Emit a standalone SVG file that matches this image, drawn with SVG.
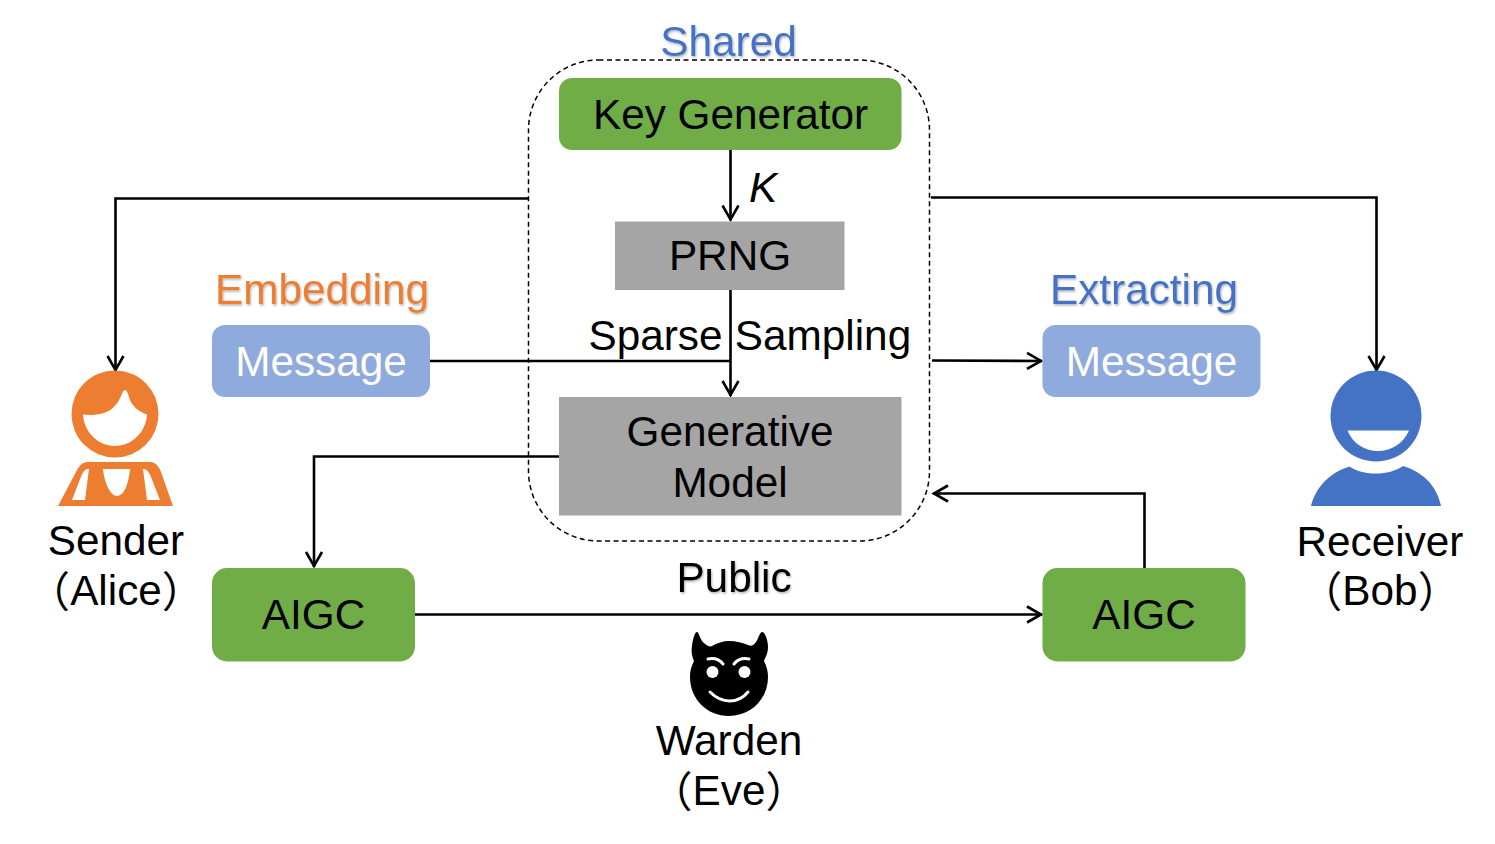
<svg xmlns="http://www.w3.org/2000/svg" width="1495" height="844" viewBox="0 0 1495 844">
<style>
text{font-family:"Liberation Sans",Arial,"Noto Sans CJK SC",sans-serif;font-size:42.300px;fill:#000;text-anchor:middle}
.w{fill:#fff}
.b{fill:#4472c4}
.o{fill:#ed7d31}
.sh{filter:url(#ts)}
.c{fill:none;stroke:#000;stroke-width:2.600}
.green{fill:#70ad47}
.gray{fill:#a5a5a5}
.lb{fill:#8faadc}
</style>
<defs>
<filter id="ts" x="-10%" y="-20%" width="120%" height="140%"><feDropShadow dx="1" dy="1.500" stdDeviation="1" flood-color="#000" flood-opacity=".3"/></filter>
<marker id="a" markerUnits="userSpaceOnUse" markerWidth="24" markerHeight="24" refX="19" refY="10" orient="auto" overflow="visible"><path d="M4 2L18 10L4 18" fill="none" stroke="#000" stroke-width="2.600"/></marker>
</defs>
<rect width="1495" height="844" fill="#fff"/>
<g id="shared-boundary"><rect x="528.500" y="60" width="401" height="481" rx="70" ry="70" fill="none" stroke="#000" stroke-width="1.500" stroke-dasharray="5 3.500"/><text class="b sh" x="728.500" y="55.500">Shared</text></g>
<g id="connectors">
<path class="c" d="M528 198.500H115.500V371" marker-end="url(#a)"/>
<path class="c" d="M931 197.500H1376.500V371" marker-end="url(#a)"/>
<path class="c" d="M730.500 150V220.500" marker-end="url(#a)"/>
<path class="c" d="M730.500 290V396" marker-end="url(#a)"/>
<path class="c" d="M430 361H730.500"/>
<path class="c" d="M932 360.500L1042 361" marker-end="url(#a)"/>
<path class="c" d="M559 456.500H314V567" marker-end="url(#a)"/>
<path class="c" d="M1144.500 568V493.500H933" marker-end="url(#a)"/>
<path class="c" d="M415 614.500H1042" marker-end="url(#a)"/>
</g>
<g id="key-generator"><rect class="green" x="559" y="78" width="342.500" height="72" rx="13"/><text x="730.500" y="129.300">Key Generator</text></g>
<g id="k-label"><text x="763" y="202.300" font-style="italic">K</text></g>
<g id="prng"><rect class="gray" x="615" y="221.500" width="229.500" height="68.500"/><text x="730" y="270.300">PRNG</text></g>
<g id="sparse-sampling"><text x="655.500" y="349.700">Sparse</text><text x="823" y="349.700">Sampling</text></g>
<g id="generative-model"><rect class="gray" x="559" y="397" width="342.500" height="118.500"/><text x="730" y="445.800">Generative</text><text x="730" y="496.800">Model</text></g>
<g id="embedding"><text class="o sh" x="322" y="303.500">Embedding</text></g>
<g id="message-left"><rect class="lb" x="212" y="325" width="218" height="72" rx="13"/><text class="w" x="321" y="376">Message</text></g>
<g id="extracting"><text class="b sh" x="1144" y="303.500">Extracting</text></g>
<g id="message-right"><rect class="lb" x="1042.500" y="325" width="218" height="72" rx="13"/><text class="w" x="1151.500" y="376">Message</text></g>
<g id="aigc-left"><rect class="green" x="212" y="568" width="203" height="93.500" rx="15"/><text x="313.500" y="628.800">AIGC</text></g>
<g id="aigc-right"><rect class="green" x="1042.500" y="568" width="203" height="93.500" rx="15"/><text x="1144" y="628.800">AIGC</text></g>
<g id="public"><text class="sh" x="734" y="592">Public</text></g>
<g id="sender">
<circle class="o" cx="115" cy="414" r="43.500"/>
<path class="w" d="M83 414.500C97 416 110 414 118 402C122 395 123 389 125.500 390C129 393 129 401 133 405C137 410 142 413 147 414.500C146 432 132 446 115 446C98 446 84 432 83 414.500Z"/>
<path class="o" fill-rule="evenodd" d="M58 506L76 472C79 466 82 462 88 462H150C155 462 159 466 161 472L173 506ZM72 500H85L89 469C85 469 84 471 82 474ZM103 469C104 481 110 496 117 496C125 496 129 481 130 469ZM143 469L147 500H160L151 477C149 472 147 469 143 469Z"/>
<text x="116" y="555">Sender</text><text x="116" y="605"><tspan dy="2">（</tspan><tspan dy="-2">Alice</tspan><tspan dy="2">）</tspan></text>
</g>
<g id="receiver">
<circle class="b" cx="1376" cy="416" r="45.500"/>
<path class="w" d="M1347.500 430.500H1409C1403 444 1391 451 1378 451C1365 451 1353 444 1347.500 430.500Z"/>
<path class="b" d="M1311 506C1316 486 1331 472 1349.500 466.500C1358 472 1367 473.500 1376 473.500C1386 473.500 1396 471 1403 466C1423 472 1437 486 1441 506Z"/>
<text x="1380" y="556">Receiver</text><text x="1380" y="605"><tspan dy="2">（</tspan><tspan dy="-2">Bob</tspan><tspan dy="2">）</tspan></text>
</g>
<g id="warden">
<path d="M692 646C693 638 695 632 697 632C699 632 700 640 704 643C707 646 710 647 712 646C717 643 723 641 729 641C736 641 743 643 748 645C751 647 754 645 756 642C758 639 760 632 762 632C765 632 768 640 768 647C768 654 765 658 764 661C767 667 768 672 768 677C768 699 751 716 729 716C707 716 690 699 690 677C690 671 691 667 694 661C692 656 691 652 692 646Z"/>
<circle class="w" cx="712.500" cy="672" r="6"/><circle class="w" cx="744.500" cy="672" r="6"/>
<path d="M708 659C713 658 719 659 723 664M749 659C744 658 738 659 734 664M710 692C722 704 738 704 748 692" fill="none" stroke="#fff" stroke-width="3" stroke-linecap="round"/>
<text x="729" y="755">Warden</text><text x="729" y="805"><tspan dy="2">（</tspan><tspan dy="-2">Eve</tspan><tspan dy="2">）</tspan></text>
</g>
</svg>
